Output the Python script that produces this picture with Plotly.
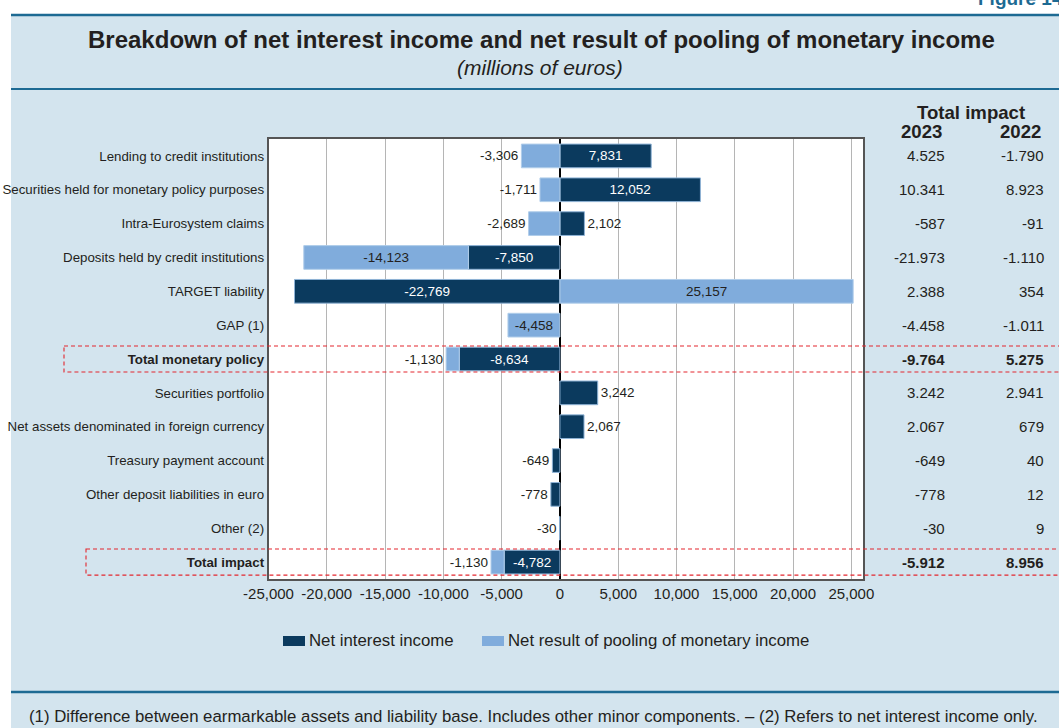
import plotly.graph_objects as go

# ---------------- data ----------------
categories = [
    "Lending to credit institutions",
    "Securities held for monetary policy purposes",
    "Intra-Eurosystem claims",
    "Deposits held by credit institutions",
    "TARGET liability",
    "GAP (1)",
    "Total monetary policy",
    "Securities portfolio",
    "Net assets denominated in foreign currency",
    "Treasury payment account",
    "Other deposit liabilities in euro",
    "Other (2)",
    "Total impact",
]
net_interest_income = [7831, 12052, 2102, -7850, -22769, None, -8634,
                       3242, 2067, -649, -778, -30, -4782]
pooling_result = [-3306, -1711, -2689, -14123, 25157, -4458, -1130,
                  None, None, None, None, None, -1130]
total_2023 = [4525, 10341, -587, -21973, 2388, -4458, -9764,
              3242, 2067, -649, -778, -30, -5912]
total_2022 = [-1790, 8923, -91, -1110, 354, -1011, 5275,
              2941, 679, 40, 12, 9, 8956]
nii_label_pos = ["inside", "inside", "outside", "inside", "inside", "none", "inside",
                 "outside", "outside", "outside", "outside", "outside", "inside"]
pool_label_pos = ["outside", "outside", "outside", "inside", "inside", "inside", "outside",
                  "none", "none", "none", "none", "none", "outside"]
total_rows = ["Total monetary policy", "Total impact"]
x_tick_values = [-25000, -20000, -15000, -10000, -5000, 0, 5000, 10000, 15000, 20000, 25000]
series_names = ["Net interest income", "Net result of pooling of monetary income"]

title_text = "Breakdown of net interest income and net result of pooling of monetary income"
subtitle_text = "(millions of euros)"
footnote_text = ("(1) Difference between earmarkable assets and liability base. Includes other minor "
                 "components. \u2013 (2) Refers to net interest income only.")

# ---------------- style ----------------
W, H = 1059, 728
FONT = "Liberation Sans, Arial, Helvetica, sans-serif"
DARK = "#0b3a5e"
LIGHT = "#80acdc"
PANEL = "#d3e4ee"
RULE = "#1d6a93"
TXT = "#231f20"
RED = "#e3262e"


def px_x(p):
    return p / W


def px_y(p):
    return 1 - p / H


def fmt_en(v):
    return "" if v is None else f"{v:,}"


def fmt_eu(v):
    return f"{v:,}".replace(",", ".")


fig = go.Figure()

fig.add_trace(go.Bar(
    name=series_names[0],
    y=categories, x=net_interest_income, orientation="h",
    marker=dict(color=DARK, line=dict(color="#8fb3d6", width=1)),
    text=[fmt_en(v) for v in net_interest_income],
    textposition=nii_label_pos,
    insidetextanchor="middle",
    insidetextfont=dict(color="white", size=13.5, family=FONT),
    outsidetextfont=dict(color=TXT, size=13.5, family=FONT),
    constraintext="none",
    width=0.7,
    showlegend=False,
    hoverinfo="x+y",
))
fig.add_trace(go.Bar(
    name=series_names[1],
    y=categories, x=pooling_result, orientation="h",
    marker=dict(color=LIGHT, line=dict(color="#b0cdea", width=1)),
    text=[fmt_en(v) for v in pooling_result],
    textposition=pool_label_pos,
    insidetextanchor="middle",
    insidetextfont=dict(color=TXT, size=13.5, family=FONT),
    outsidetextfont=dict(color=TXT, size=13.5, family=FONT),
    constraintext="none",
    width=0.7,
    showlegend=False,
    hoverinfo="x+y",
))

ticktext_y = [f"<b>{c}</b>" if c in total_rows else c for c in categories]

shapes = []
# white outer strips (top and left)
shapes.append(dict(type="rect", xref="paper", yref="paper", x0=0, x1=1, y0=px_y(14), y1=1.01,
                   fillcolor="white", line=dict(width=0), layer="below"))
shapes.append(dict(type="rect", xref="paper", yref="paper", x0=-0.01, x1=px_x(11), y0=-0.01, y1=1.01,
                   fillcolor="white", line=dict(width=0), layer="below"))
# rules
for yy, wd in [(15, 2.5), (89, 2), (692, 2.5)]:
    shapes.append(dict(type="line", xref="paper", yref="paper", x0=px_x(11), x1=1.01,
                       y0=px_y(yy), y1=px_y(yy), line=dict(color=RULE, width=wd)))
# red dashed boxes around total rows
for name, left_px in [("Total monetary policy", 64), ("Total impact", 86)]:
    idx = categories.index(name)
    shapes.append(dict(type="rect", xref="paper", yref="y", x0=px_x(left_px), x1=1.02,
                       y0=idx - 0.385, y1=idx + 0.385,
                       line=dict(color=RED, width=1.1, dash="4px,3px"), layer="above"))

annotations = []
# legend (swatch + label)
legend_items = [(series_names[0], DARK, 283), (series_names[1], LIGHT, 482)]
for name, col, x_px in legend_items:
    shapes.append(dict(type="rect", xref="paper", yref="paper",
                       x0=px_x(x_px), x1=px_x(x_px + 22), y0=px_y(646), y1=px_y(636),
                       fillcolor=col, line=dict(width=0)))
    annotations.append(dict(text=name, xref="paper", yref="paper", x=px_x(x_px + 24), y=px_y(640.5),
                            xanchor="left", yanchor="middle", showarrow=False,
                            font=dict(family=FONT, size=16.8, color=TXT)))

annotations.append(dict(text="Figure 14", xref="paper", yref="paper", x=px_x(976), y=px_y(11),
                        xanchor="left", yanchor="bottom", showarrow=False,
                        font=dict(family=FONT, size=19, color=RULE, weight="bold")))
annotations.append(dict(text=f"<b>{title_text}</b>", xref="paper", yref="paper",
                        x=px_x(541), y=px_y(39), xanchor="center", yanchor="middle", showarrow=False,
                        font=dict(family=FONT, size=24, color=TXT)))
annotations.append(dict(text=f"<i>{subtitle_text}</i>", xref="paper", yref="paper",
                        x=px_x(540), y=px_y(67), xanchor="center", yanchor="middle", showarrow=False,
                        font=dict(family=FONT, size=21, color=TXT)))
annotations.append(dict(text=footnote_text, xref="paper", yref="paper",
                        x=px_x(27), y=px_y(716), xanchor="left", yanchor="middle", showarrow=False,
                        font=dict(family=FONT, size=16.8, color=TXT)))
# table header
annotations.append(dict(text="<b>Total impact</b>", xref="paper", yref="paper",
                        x=px_x(971), y=px_y(112), xanchor="center", yanchor="middle", showarrow=False,
                        font=dict(family=FONT, size=18.6, color=TXT)))
annotations.append(dict(text="<b>2023</b>", xref="paper", yref="paper",
                        x=px_x(944), y=px_y(131), xanchor="right", yanchor="middle", showarrow=False,
                        font=dict(family=FONT, size=18.6, color=TXT)))
annotations.append(dict(text="<b>2022</b>", xref="paper", yref="paper",
                        x=px_x(1043), y=px_y(131), xanchor="right", yanchor="middle", showarrow=False,
                        font=dict(family=FONT, size=18.6, color=TXT)))
# table values
for c, v23, v22 in zip(categories, total_2023, total_2022):
    b = c in total_rows
    for v, xr in [(v23, 947), (v22, 1046)]:
        t = fmt_eu(v)
        annotations.append(dict(text=f"<b>{t}</b>" if b else t, xref="paper", yref="y",
                                x=px_x(xr), y=c, xanchor="right", yanchor="middle", showarrow=False,
                                font=dict(family=FONT, size=15, color=TXT)))

fig.update_layout(
    width=W, height=H, autosize=False,
    margin=dict(l=0, r=0, t=0, b=0, pad=0, autoexpand=False),
    paper_bgcolor=PANEL, plot_bgcolor="white",
    barmode="relative",
    showlegend=False,
    font=dict(family=FONT, color=TXT, size=13),
    xaxis=dict(
        domain=[px_x(268.5), px_x(863)],
        range=[-25000, 26000],
        tickvals=x_tick_values,
        ticktext=[f"{v:,}" for v in x_tick_values],
        tickfont=dict(size=15, color=TXT),
        showgrid=True, gridcolor="#b5b5b5", gridwidth=1,
        zeroline=True, zerolinecolor="black", zerolinewidth=1.5,
        showline=True, linecolor="#555555", linewidth=1.5, mirror=True,
        ticks="", fixedrange=True, automargin=False,
    ),
    yaxis=dict(
        domain=[px_y(579), px_y(139)],
        type="category",
        categoryorder="array", categoryarray=categories,
        autorange="reversed",
        tickvals=categories, ticktext=ticktext_y,
        tickfont=dict(size=13.3, color=TXT),
        showgrid=False, zeroline=False,
        showline=True, linecolor="#555555", linewidth=1.5, mirror=True,
        ticks="", fixedrange=True, automargin=False,
    ),
    shapes=shapes,
    annotations=annotations,
)

fig.write_html("out.html")
